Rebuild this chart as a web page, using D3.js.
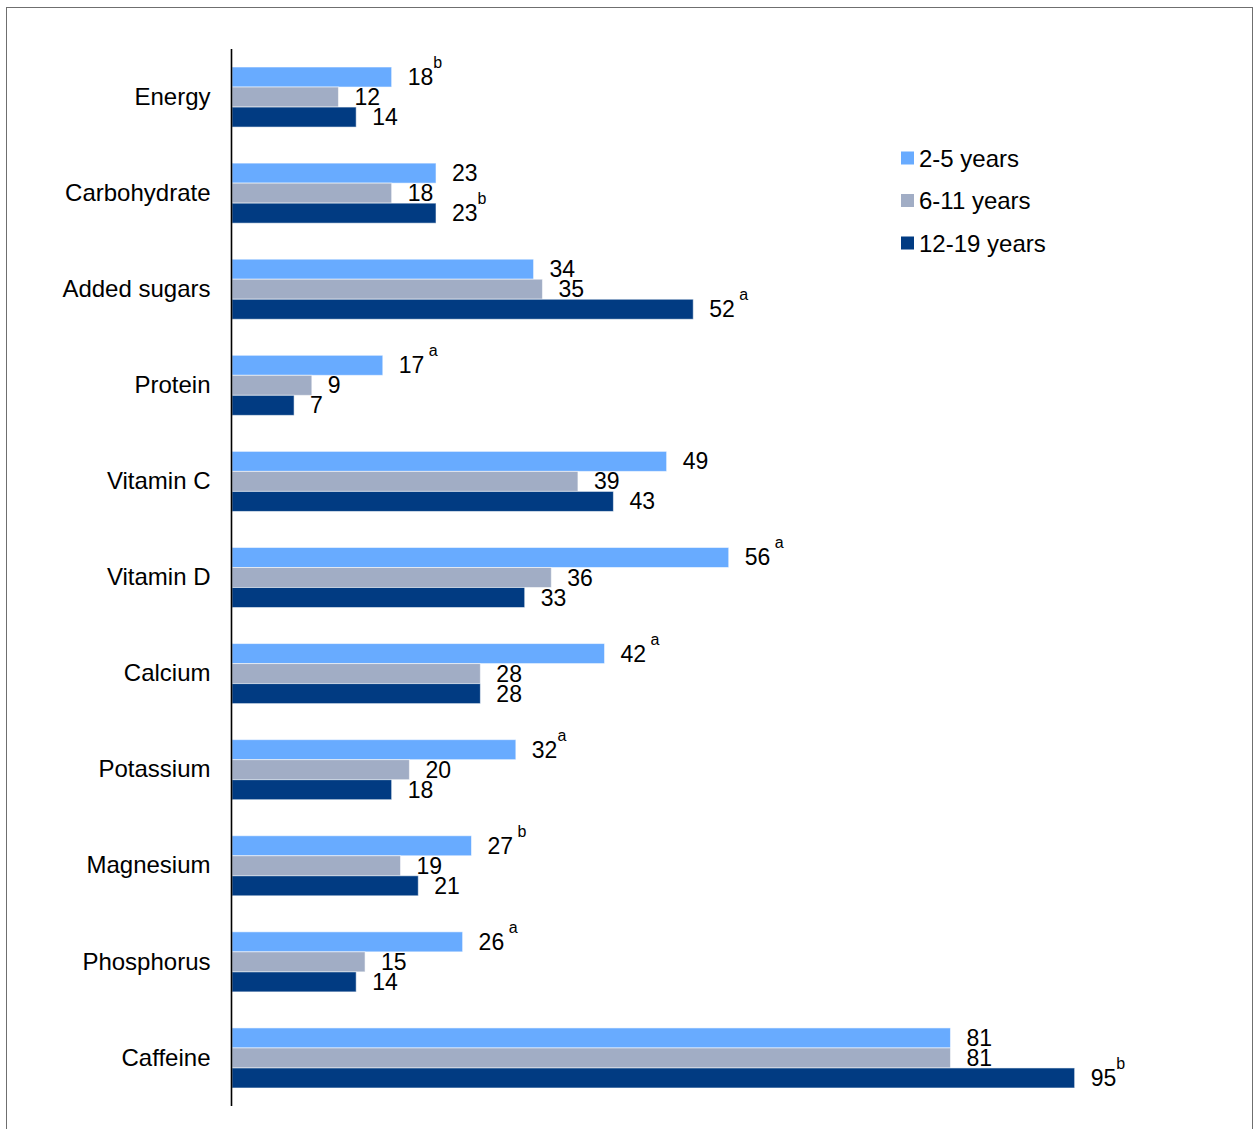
<!DOCTYPE html>
<html>
<head>
<meta charset="utf-8">
<script src="https://cdn.jsdelivr.net/npm/d3@7"></script>
<style>
  html, body { margin: 0; padding: 0; background: #fff; }
  svg { display: block; font-family: "Liberation Sans", Arial, sans-serif; }
</style>
</head>
<body>
<svg id="chart" width="1259" height="1129"></svg>
<script>
const categories = ["Energy", "Carbohydrate", "Added sugars", "Protein", "Vitamin C", "Vitamin D",
  "Calcium", "Potassium", "Magnesium", "Phosphorus", "Caffeine"];
const seriesNames = ["2-5 years", "6-11 years", "12-19 years"];
const values2to5 = [18, 23, 34, 17, 49, 56, 42, 32, 27, 26, 81];
const values6to11 = [12, 18, 35, 9, 39, 36, 28, 20, 19, 15, 81];
const values12to19 = [14, 23, 52, 7, 43, 33, 28, 18, 21, 14, 95];
const notes2to5 = ["b", "", "", " a", "", " a", " a", "a", " b", " a", ""];
const notes6to11 = ["", "", "", "", "", "", "", "", "", "", ""];
const notes12to19 = ["", "b", " a", "", "", "", "", "", "", "", "b"];
const colors = ["#68abff", "#a1adc5", "#013b82"];

const seriesValues = [values2to5, values6to11, values12to19];
const seriesNotes = [notes2to5, notes6to11, notes12to19];

const svg = d3.select("#chart");

// frame
svg.append("rect")
  .attr("x", 6.5).attr("y", 7.5)
  .attr("width", 1246).attr("height", 1140)
  .attr("fill", "none").attr("stroke", "#6f6f6f").attr("stroke-width", 1);

const x = d3.scaleLinear().domain([0, 100]).range([232, 1119]);
const y = d3.scaleBand().domain(categories).range([49, 1106])
  .paddingInner(0.375).paddingOuter(0.1875);
const ySub = d3.scaleBand().domain(d3.range(seriesNames.length)).range([0, y.bandwidth()]);

const rows = [];
categories.forEach((c, i) => {
  seriesNames.forEach((s, j) => {
    rows.push({ cat: c, s: j, v: seriesValues[j][i], note: seriesNotes[j][i] });
  });
});

const g = svg.append("g");

g.selectAll("rect.bar").data(rows).enter().append("rect")
  .attr("class", "bar")
  .attr("x", x(0))
  .attr("y", d => y(d.cat) + ySub(d.s))
  .attr("width", d => x(d.v) - x(0))
  .attr("height", ySub.bandwidth())
  .attr("fill", d => colors[d.s])
  .attr("stroke", "rgba(255,255,255,0.55)")
  .attr("stroke-width", 1);

// value labels
const lbl = g.selectAll("text.val").data(rows).enter().append("text")
  .attr("class", "val")
  .attr("x", d => x(d.v) + 16)
  .attr("y", d => y(d.cat) + ySub(d.s) + ySub.bandwidth() / 2 + 8)
  .attr("font-size", 23)
  .attr("fill", "#000");
lbl.append("tspan").text(d => d.v);
lbl.filter(d => d.note !== "").append("tspan")
  .attr("font-size", 16)
  .attr("dy", -17)
  .attr("xml:space", "preserve")
  .style("white-space", "pre")
  .text(d => d.note);

// category axis
const yAxis = d3.axisLeft(y).tickSize(0).tickPadding(21);
const ax = svg.append("g").attr("transform", "translate(231.5,0)").call(yAxis);
ax.select(".domain").remove();
ax.selectAll("text").attr("font-size", 24).attr("fill", "#000")
  .attr("font-family", "Liberation Sans, Arial, sans-serif");
svg.append("line")
  .attr("x1", 231.5).attr("x2", 231.5)
  .attr("y1", 49).attr("y2", 1106)
  .attr("stroke", "#000").attr("stroke-width", 1.6);

// legend
const legend = svg.append("g").attr("transform", "translate(901,158)");
const li = legend.selectAll("g").data(seriesNames).enter().append("g")
  .attr("transform", (d, i) => `translate(0,${i * 42.5})`);
li.append("rect").attr("x", 0).attr("y", -6.5).attr("width", 13).attr("height", 13)
  .attr("fill", (d, i) => colors[i]);
li.append("text").attr("x", 18).attr("y", 8.5).attr("font-size", 24).attr("fill", "#000")
  .text(d => d);
</script>
</body>
</html>
